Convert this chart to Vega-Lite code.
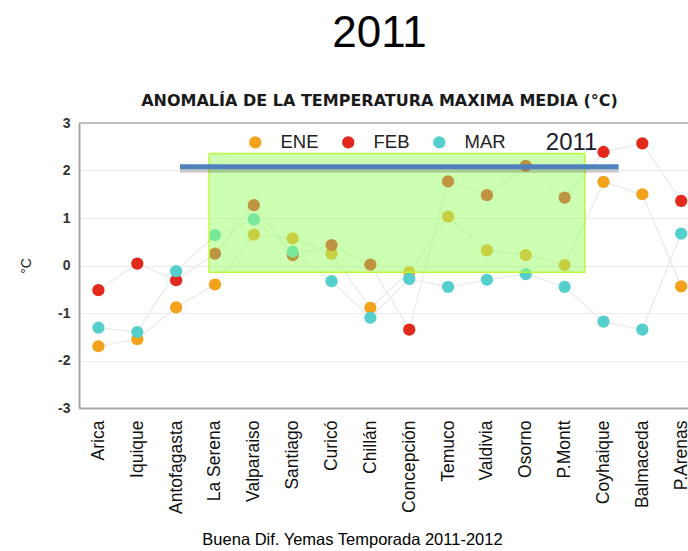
{
  "$schema": "https://vega.github.io/schema/vega-lite/v6.json",
  "width": 609,
  "height": 285,
  "autosize": {"type": "none"},
  "padding": {"left": 79, "top": 123, "right": 0, "bottom": 143},
  "background": "white",
  "title": {
    "text": "2011",
    "subtitle": "ANOMALÍA DE LA TEMPERATURA MAXIMA MEDIA (°C)",
    "anchor": "middle",
    "frame": "group",
    "font": "Liberation Sans",
    "fontSize": 44,
    "fontWeight": "normal",
    "color": "#000000",
    "subtitleFont": "DejaVu Sans",
    "subtitleFontSize": 16,
    "subtitleFontWeight": "bold",
    "subtitleColor": "#1a1a1a",
    "subtitlePadding": 37,
    "offset": 7,
    "dx": -4
  },
  "datasets": {
    "anomalias": [
      {"station": "Arica", "i": 0, "ENE": -1.70, "FEB": -0.52, "MAR": -1.31},
      {"station": "Iquique", "i": 1, "ENE": -1.55, "FEB": 0.04, "MAR": -1.40},
      {"station": "Antofagasta", "i": 2, "ENE": -0.88, "FEB": -0.31, "MAR": -0.12},
      {"station": "La Serena", "i": 3, "ENE": -0.40, "FEB": 0.25, "MAR": 0.64},
      {"station": "Valparaiso", "i": 4, "ENE": 0.65, "FEB": 1.27, "MAR": 0.97},
      {"station": "Santiago", "i": 5, "ENE": 0.57, "FEB": 0.22, "MAR": 0.29},
      {"station": "Curicó", "i": 6, "ENE": 0.25, "FEB": 0.43, "MAR": -0.33},
      {"station": "Chillán", "i": 7, "ENE": -0.89, "FEB": 0.02, "MAR": -1.10},
      {"station": "Concepción", "i": 8, "ENE": -0.14, "FEB": -1.35, "MAR": -0.28},
      {"station": "Temuco", "i": 9, "ENE": 1.03, "FEB": 1.77, "MAR": -0.45},
      {"station": "Valdivia", "i": 10, "ENE": 0.32, "FEB": 1.48, "MAR": -0.30},
      {"station": "Osorno", "i": 11, "ENE": 0.22, "FEB": 2.10, "MAR": -0.18},
      {"station": "P.Montt", "i": 12, "ENE": 0.01, "FEB": 1.43, "MAR": -0.45},
      {"station": "Coyhaique", "i": 13, "ENE": 1.76, "FEB": 2.39, "MAR": -1.18},
      {"station": "Balmaceda", "i": 14, "ENE": 1.50, "FEB": 2.57, "MAR": -1.35},
      {"station": "P.Arenas", "i": 15, "ENE": -0.44, "FEB": 1.36, "MAR": 0.67}
    ],
    "zona": [{"x0": 3.35, "x1": 13.02, "y0": -0.14, "y1": 2.36}],
    "linea": [{"x0": 2.6, "x1": 13.89, "y0": 2.08}],
    "etiqueta": [{"label": "2011", "x0": 12.68, "y0": 2.57}]
  },
  "layer": [
    {
      "data": {"name": "anomalias"},
      "transform": [{"fold": ["ENE", "FEB", "MAR"], "as": ["mes", "anomalia"]}],
      "encoding": {
        "x": {
          "field": "station",
          "type": "nominal",
          "sort": null,
          "scale": {
            "domain": ["Arica", "Iquique", "Antofagasta", "La Serena", "Valparaiso", "Santiago", "Curicó", "Chillán", "Concepción", "Temuco", "Valdivia", "Osorno", "P.Montt", "Coyhaique", "Balmaceda", "P.Arenas"],
            "range": [0, 621.6],
            "paddingInner": 0,
            "paddingOuter": 0
          },
          "axis": {
            "title": "Buena Dif. Yemas Temporada 2011-2012",
            "titleFont": "Liberation Sans",
            "titleFontSize": 16.5,
            "titleFontWeight": "normal",
            "titleColor": "#000000",
            "titlePadding": 18,
            "titleX": 273,
            "labelAngle": 270,
            "labelAlign": "right",
            "labelBaseline": "middle",
            "labelFont": "Liberation Sans",
            "labelFontSize": 17.5,
            "labelColor": "#111111",
            "labelPadding": 12,
            "labelOverlap": false,
            "ticks": false,
            "grid": false,
            "domainColor": "#a6a6a6",
            "domainWidth": 2
          }
        },
        "y": {
          "field": "anomalia",
          "type": "quantitative",
          "scale": {"domain": [-3, 3], "nice": false},
          "title": "°C",
          "axis": {"values": [-3, -2, -1, 0, 1, 2, 3], "labelExpr": "replace(datum.label, '−', '-')"}
        }
      },
      "layer": [
        {
          "mark": {"type": "line", "color": "#ededed", "strokeWidth": 1.5},
          "encoding": {"detail": {"field": "mes"}, "order": {"field": "i"}}
        },
        {
          "mark": {"type": "circle", "size": 150, "opacity": 1},
          "encoding": {
            "color": {
              "field": "mes",
              "type": "nominal",
              "scale": {"domain": ["ENE", "FEB", "MAR"], "range": ["#f4a11c", "#e3291b", "#55cfcc"]},
              "legend": {
                "orient": "none",
                "legendX": 167,
                "legendY": 10,
                "direction": "horizontal",
                "title": null,
                "labelFont": "Liberation Sans",
                "labelFontSize": 18.5,
                "labelColor": "#222222",
                "symbolType": "circle",
                "symbolSize": 150,
                "symbolStrokeWidth": 0,
                "symbolOpacity": 1,
                "labelOffset": 16,
                "columnPadding": 20,
                "padding": 0
              }
            }
          }
        }
      ]
    },
    {
      "data": {"values": [{}]},
      "mark": {"type": "rule", "color": "#b0b0b0", "strokeWidth": 1.5},
      "encoding": {"y": {"datum": 3, "type": "quantitative", "scale": {"domain": [-3, 3], "nice": false}, "title": "°C"}}
    },
    {
      "encoding": {
        "x": {"field": "x0", "type": "quantitative", "scale": {"domain": [0, 16], "range": [0, 621.6], "nice": false, "zero": false}, "axis": null},
        "y": {"field": "y0", "type": "quantitative", "scale": {"domain": [-3, 3], "nice": false}, "title": "°C"}
      },
      "layer": [
        {
          "data": {"name": "zona"},
          "mark": {"type": "rect", "fill": "#99ff66", "fillOpacity": 0.5, "stroke": "#bdf53d", "strokeWidth": 1.5},
          "encoding": {"x2": {"field": "x1"}, "y2": {"field": "y1"}}
        },
        {
          "data": {"name": "linea"},
          "mark": {"type": "rule", "color": "#444444", "opacity": 0.25, "strokeWidth": 4, "yOffset": 4, "y2Offset": 4},
          "encoding": {"x2": {"field": "x1"}}
        },
        {
          "data": {"name": "linea"},
          "mark": {"type": "rule", "color": "#4f81bd", "strokeWidth": 5},
          "encoding": {"x2": {"field": "x1"}}
        },
        {
          "data": {"name": "etiqueta"},
          "mark": {"type": "text", "font": "Liberation Sans", "fontSize": 24, "color": "#1c1c30"},
          "encoding": {"text": {"field": "label"}}
        }
      ]
    }
  ],
  "resolve": {"scale": {"x": "independent"}},
  "config": {
    "view": {"stroke": null},
    "axisY": {
      "grid": true,
      "gridColor": "#ebebeb",
      "domainColor": "#a6a6a6",
      "domainWidth": 2,
      "ticks": false,
      "labelPadding": 9,
      "labelFont": "Liberation Sans",
      "labelFontSize": 14,
      "labelFontWeight": "bold",
      "labelColor": "#333333",
      "titleFont": "Liberation Sans",
      "titleFontSize": 14,
      "titleFontWeight": "normal",
      "titleColor": "#222222",
      "titlePadding": 24
    }
  }
}
